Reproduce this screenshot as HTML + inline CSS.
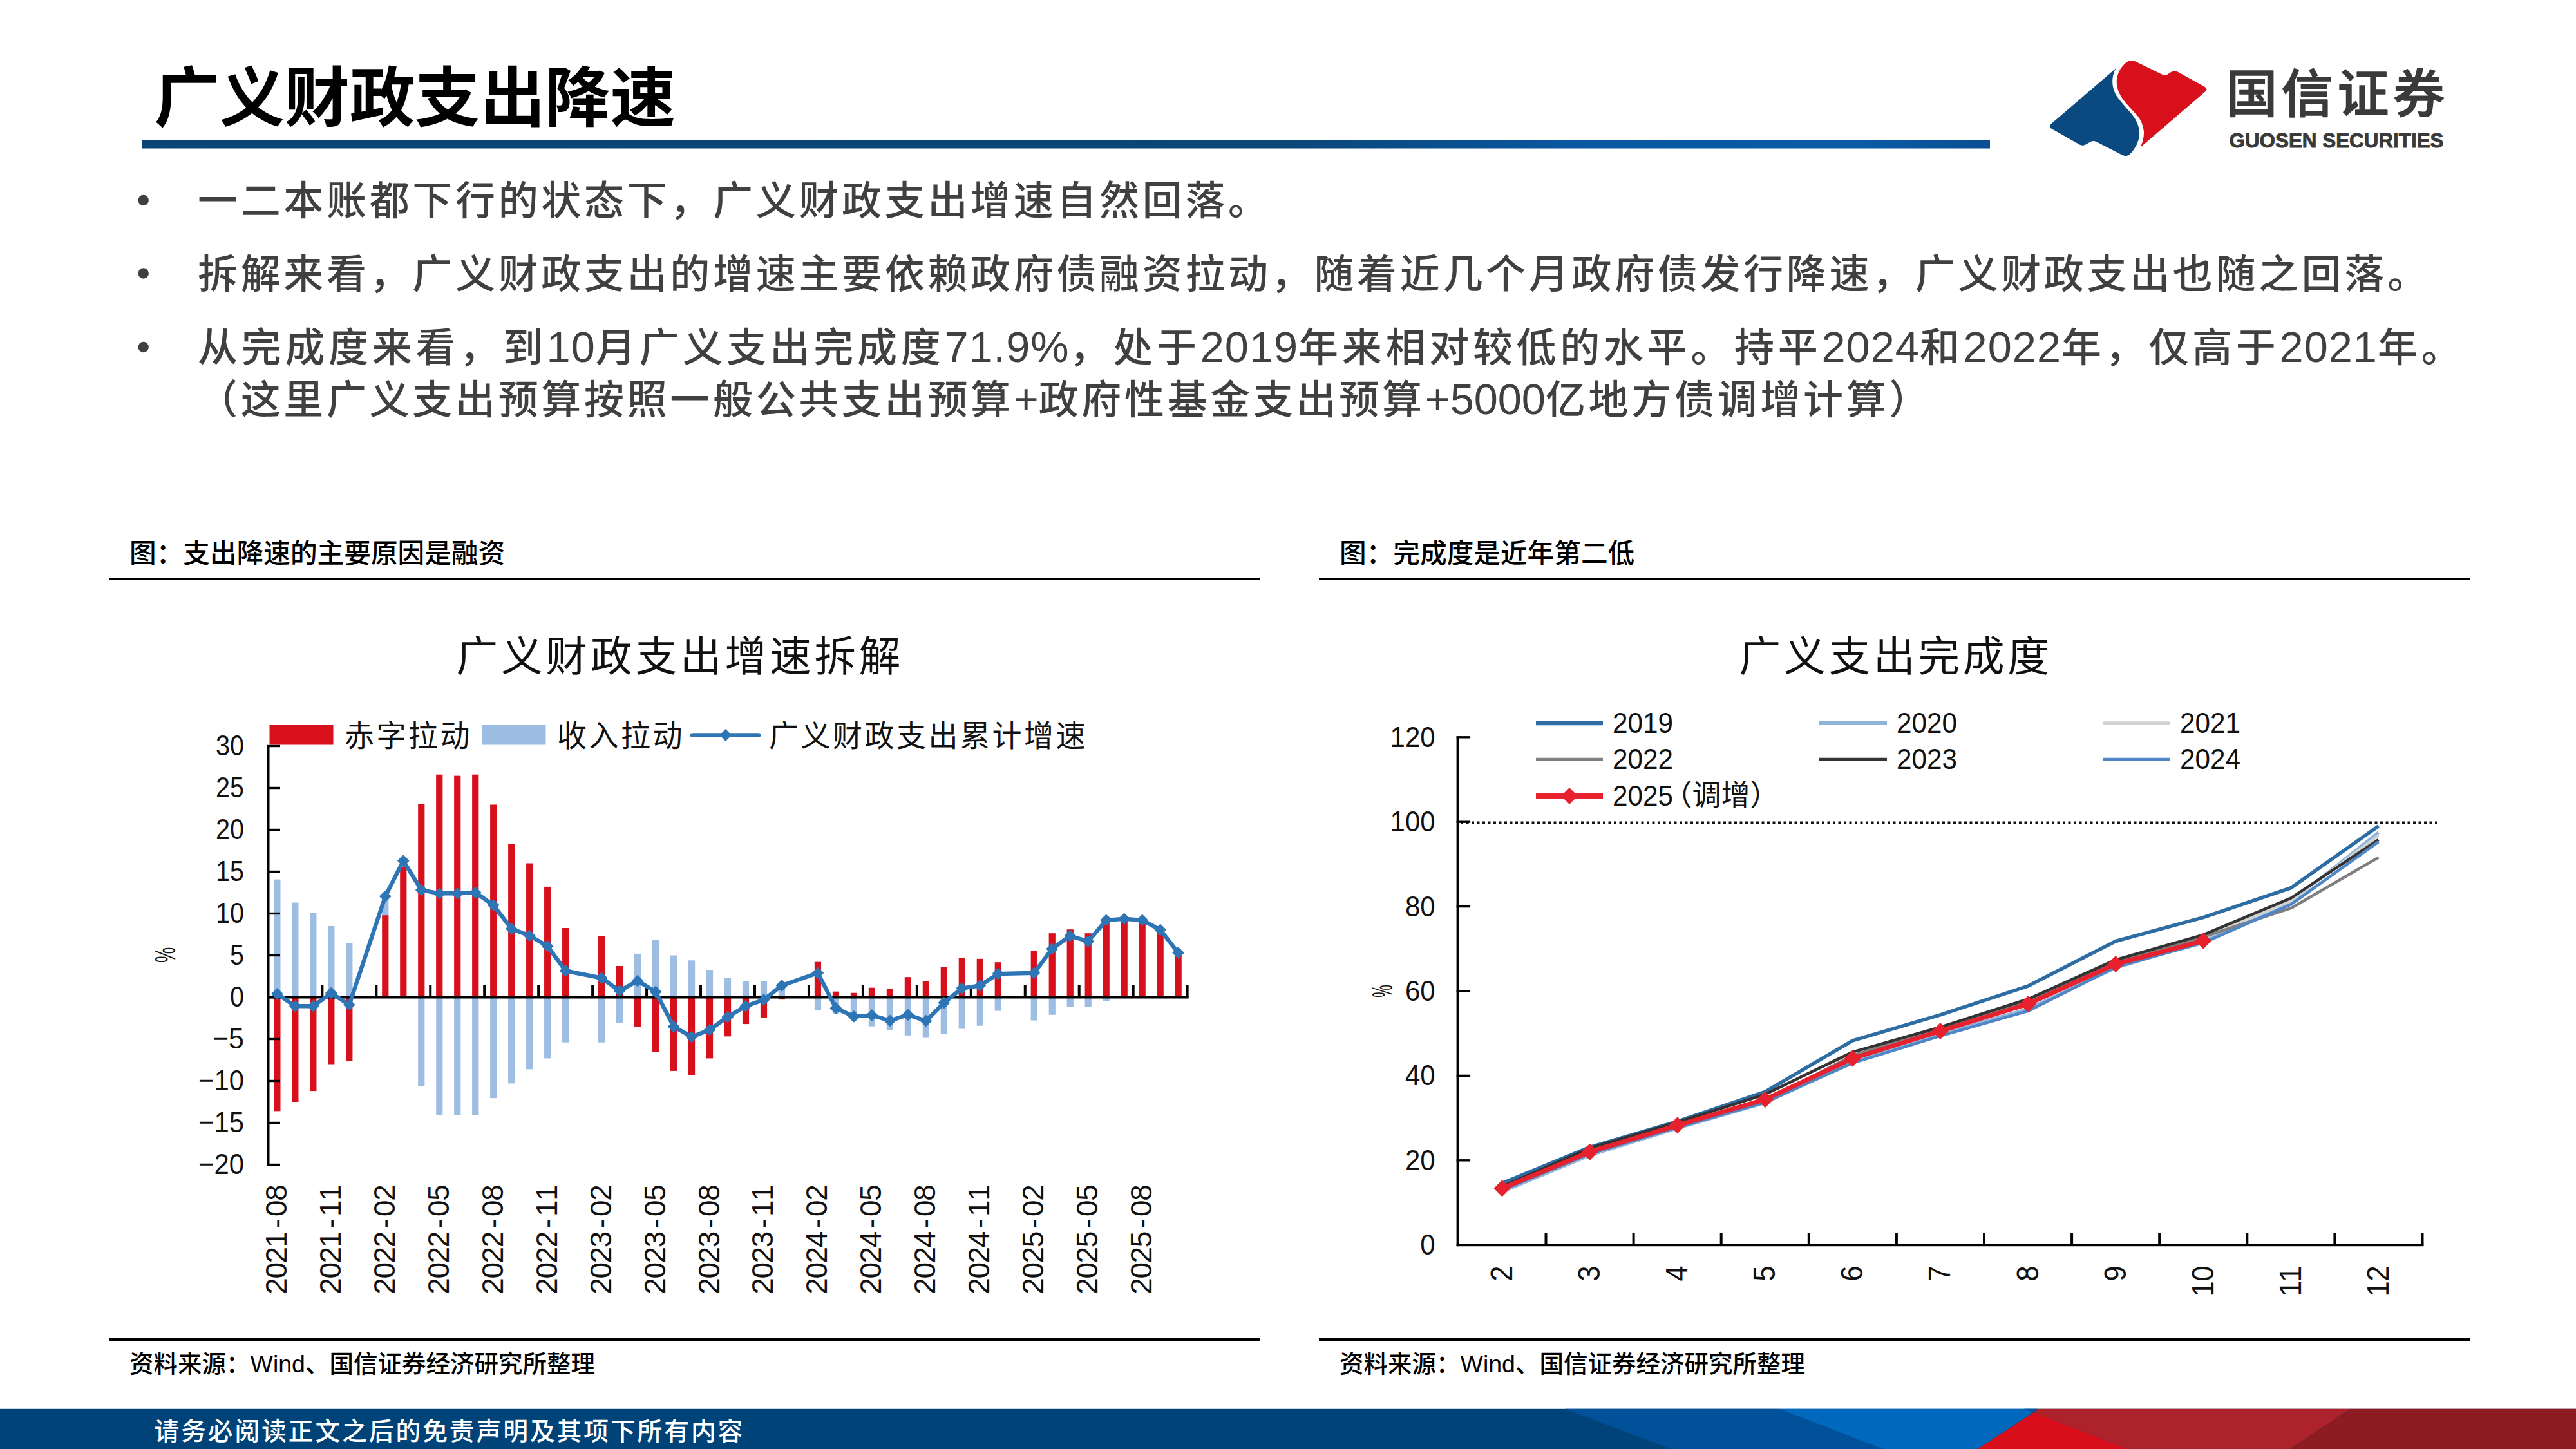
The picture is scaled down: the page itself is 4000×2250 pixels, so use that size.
<!DOCTYPE html>
<html lang="zh-CN"><head><meta charset="utf-8"><title>广义财政支出降速</title>
<style>html,body{margin:0;padding:0;background:#fff;}svg{display:block;}text{white-space:pre;}</style></head>
<body>
<svg width="4000" height="2250" viewBox="0 0 4000 2250">
<rect width="4000" height="2250" fill="#fff"/>
<text x="239.5" y="187.5" font-size="101.2" fill="#000" text-anchor="start" font-weight="700" font-family="'Liberation Sans','Noto Sans CJK SC',sans-serif" id="title">广义财政支出降速</text>
<defs><linearGradient id="rule" x1="0" x2="1" y1="0" y2="0"><stop offset="0" stop-color="#0b4576"/><stop offset="0.62" stop-color="#0b4678"/><stop offset="0.78" stop-color="#0a58a2"/><stop offset="0.93" stop-color="#0a5aa6"/><stop offset="1" stop-color="#0a4f92"/></linearGradient></defs>
<rect x="220" y="217.5" width="2870" height="13" fill="url(#rule)"/>
<g transform="translate(3160,80) scale(0.12422)"><path fill="#0a4a80" d="M1012 210 L200 905 Q165 940 205 965 L560 1165 Q600 1185 640 1160 L700 1125 Q730 1110 765 1128 L1090 1295 Q1150 1320 1190 1280 Q1300 1160 1305 1030 Q1310 900 1200 770 Q1060 620 1010 540 Q950 430 975 300 Q985 250 1012 210 Z"/><path fill="#d7101c" d="M1315 1200 L2130 500 Q2165 465 2120 440 L1775 250 Q1740 232 1700 258 L1650 290 Q1625 305 1590 288 L1255 125 Q1200 100 1150 130 Q1030 220 1020 370 Q1015 480 1100 600 Q1180 700 1270 790 Q1350 880 1360 1000 Q1365 1100 1315 1200 Z"/></g>
<text x="3456.2" y="174" font-size="80" fill="#3a3a3a" text-anchor="start" font-weight="500" font-family="'Liberation Sans','Noto Sans CJK SC',sans-serif" id="logocn" letter-spacing="6.6" stroke="#3a3a3a" stroke-width="1.6" stroke-linejoin="round">国信证券</text>
<text x="3461.5" y="229" font-size="31.3" fill="#3a3a3a" text-anchor="start" font-weight="700" font-family="'Liberation Sans',sans-serif" id="logoen" textLength="333" lengthAdjust="spacingAndGlyphs" stroke="#3a3a3a" stroke-width="0.9">GUOSEN SECURITIES</text>
<text x="307.0" y="334" fill="#404040" font-weight="500" font-family="'Liberation Sans','Noto Sans CJK SC',sans-serif" id="b0"><tspan font-size="62.00" letter-spacing="4.67">一二本账都下行的状态下，广义财政支出增速自然回落。</tspan></text>
<circle cx="222.7" cy="311" r="8.2" fill="#404040"/>
<text x="307.0" y="447.5" fill="#404040" font-weight="500" font-family="'Liberation Sans','Noto Sans CJK SC',sans-serif" id="b1"><tspan font-size="62.00" letter-spacing="4.67">拆解来看，广义财政支出的增速主要依赖政府债融资拉动，随着近几个月政府债发行降速，广义财政支出也随之回落。</tspan></text>
<circle cx="222.7" cy="424.5" r="8.2" fill="#404040"/>
<text x="307.0" y="562" fill="#404040" font-weight="500" font-family="'Liberation Sans','Noto Sans CJK SC',sans-serif" id="b2"><tspan font-size="62.00" letter-spacing="5.70">从完成度来看，到</tspan><tspan font-size="66.67" letter-spacing="1.03">10</tspan><tspan font-size="62.00" letter-spacing="5.70">月广义支出完成度</tspan><tspan font-size="66.67" letter-spacing="1.03">71.9%</tspan><tspan font-size="62.00" letter-spacing="5.70">，处于</tspan><tspan font-size="66.67" letter-spacing="1.03">2019</tspan><tspan font-size="62.00" letter-spacing="5.70">年来相对较低的水平。持平</tspan><tspan font-size="66.67" letter-spacing="1.03">2024</tspan><tspan font-size="62.00" letter-spacing="5.70">和</tspan><tspan font-size="66.67" letter-spacing="1.03">2022</tspan><tspan font-size="62.00" letter-spacing="5.70">年，仅高于</tspan><tspan font-size="66.67" letter-spacing="1.03">2021</tspan><tspan font-size="62.00" letter-spacing="5.70">年。</tspan></text>
<circle cx="222.7" cy="539" r="8.2" fill="#404040"/>
<text x="307.0" y="642.5" fill="#404040" font-weight="500" font-family="'Liberation Sans','Noto Sans CJK SC',sans-serif" id="b3"><tspan font-size="62.00" letter-spacing="4.67">（这里广义支出预算按照一般公共支出预算</tspan><tspan font-size="66.67" letter-spacing="0.00">+</tspan><tspan font-size="62.00" letter-spacing="4.67">政府性基金支出预算</tspan><tspan font-size="66.67" letter-spacing="0.00">+5000</tspan><tspan font-size="62.00" letter-spacing="4.67">亿地方债调增计算）</tspan></text>
<text x="201" y="874" font-size="41.67" fill="#000" text-anchor="start" font-weight="500" font-family="'Liberation Sans','Noto Sans CJK SC',sans-serif" id="f1">图：支出降速的主要原因是融资</text>
<rect x="169" y="897" width="1788" height="4" fill="#000"/>
<rect x="169" y="2078" width="1788" height="4" fill="#000"/>
<text x="201" y="2131" font-size="37.5" fill="#000" text-anchor="start" font-weight="500" font-family="'Liberation Sans','Noto Sans CJK SC',sans-serif" id="sf1">资料来源：Wind、国信证券经济研究所整理</text>
<text x="2080" y="874" font-size="41.67" fill="#000" text-anchor="start" font-weight="500" font-family="'Liberation Sans','Noto Sans CJK SC',sans-serif" id="f2">图：完成度是近年第二低</text>
<rect x="2048" y="897" width="1788" height="4" fill="#000"/>
<rect x="2048" y="2078" width="1788" height="4" fill="#000"/>
<text x="2080" y="2131" font-size="37.5" fill="#000" text-anchor="start" font-weight="500" font-family="'Liberation Sans','Noto Sans CJK SC',sans-serif" id="sf2">资料来源：Wind、国信证券经济研究所整理</text>
<text x="708.5" y="1041.5" fill="#111" font-weight="400" font-family="'Liberation Sans','Noto Sans CJK SC',sans-serif" id="ct1"><tspan font-size="64.64" letter-spacing="4.86">广义财政支出增速拆解</tspan></text>
<rect x="418.5" y="1126" width="99" height="30.5" fill="#d7101c"/>
<text x="535" y="1158.5" fill="#111" font-weight="400" font-family="'Liberation Sans','Noto Sans CJK SC',sans-serif" id="lg1"><tspan font-size="46.04" letter-spacing="3.46">赤字拉动</tspan></text>
<rect x="748.5" y="1126" width="99" height="30.5" fill="#9dbde3"/>
<text x="865" y="1158.5" fill="#111" font-weight="400" font-family="'Liberation Sans','Noto Sans CJK SC',sans-serif" id="lg2"><tspan font-size="46.04" letter-spacing="3.46">收入拉动</tspan></text>
<line x1="1075" y1="1141.5" x2="1178" y2="1141.5" stroke="#2e75b6" stroke-width="6.4" stroke-linecap="round"/>
<polygon points="1117.3,1141.5 1126.7,1132.1 1136.1,1141.5 1126.7,1150.9" fill="#2e75b6"/>
<text x="1194" y="1158.5" fill="#111" font-weight="400" font-family="'Liberation Sans','Noto Sans CJK SC',sans-serif" id="lg3"><tspan font-size="46.04" letter-spacing="3.46">广义财政支出累计增速</tspan></text>
<rect x="425.29" y="1548.50" width="10.2" height="176.80" fill="#d7101c"/>
<rect x="425.29" y="1365.59" width="10.2" height="182.91" fill="#9dbde3"/>
<rect x="453.28" y="1548.50" width="10.2" height="162.50" fill="#d7101c"/>
<rect x="453.28" y="1401.60" width="10.2" height="146.90" fill="#9dbde3"/>
<rect x="481.26" y="1548.50" width="10.2" height="145.60" fill="#d7101c"/>
<rect x="481.26" y="1417.20" width="10.2" height="131.30" fill="#9dbde3"/>
<rect x="509.25" y="1548.50" width="10.2" height="104.00" fill="#d7101c"/>
<rect x="509.25" y="1438.00" width="10.2" height="110.50" fill="#9dbde3"/>
<rect x="537.23" y="1548.50" width="10.2" height="98.80" fill="#d7101c"/>
<rect x="537.23" y="1464.65" width="10.2" height="83.85" fill="#9dbde3"/>
<rect x="593.20" y="1421.10" width="10.2" height="127.40" fill="#d7101c"/>
<rect x="593.20" y="1392.50" width="10.2" height="28.60" fill="#9dbde3"/>
<rect x="621.19" y="1345.70" width="10.2" height="202.80" fill="#d7101c"/>
<rect x="621.19" y="1336.60" width="10.2" height="9.10" fill="#9dbde3"/>
<rect x="649.17" y="1248.20" width="10.2" height="300.30" fill="#d7101c"/>
<rect x="649.17" y="1548.50" width="10.2" height="137.80" fill="#9dbde3"/>
<rect x="677.16" y="1202.70" width="10.2" height="345.80" fill="#d7101c"/>
<rect x="677.16" y="1548.50" width="10.2" height="183.30" fill="#9dbde3"/>
<rect x="705.14" y="1204.65" width="10.2" height="343.85" fill="#d7101c"/>
<rect x="705.14" y="1548.50" width="10.2" height="183.30" fill="#9dbde3"/>
<rect x="733.13" y="1202.70" width="10.2" height="345.80" fill="#d7101c"/>
<rect x="733.13" y="1548.50" width="10.2" height="183.30" fill="#9dbde3"/>
<rect x="761.11" y="1249.50" width="10.2" height="299.00" fill="#d7101c"/>
<rect x="761.11" y="1548.50" width="10.2" height="156.65" fill="#9dbde3"/>
<rect x="789.10" y="1310.60" width="10.2" height="237.90" fill="#d7101c"/>
<rect x="789.10" y="1548.50" width="10.2" height="133.90" fill="#9dbde3"/>
<rect x="817.08" y="1340.50" width="10.2" height="208.00" fill="#d7101c"/>
<rect x="817.08" y="1548.50" width="10.2" height="111.80" fill="#9dbde3"/>
<rect x="845.07" y="1376.90" width="10.2" height="171.60" fill="#d7101c"/>
<rect x="845.07" y="1548.50" width="10.2" height="94.90" fill="#9dbde3"/>
<rect x="873.05" y="1440.99" width="10.2" height="107.51" fill="#d7101c"/>
<rect x="873.05" y="1548.50" width="10.2" height="70.20" fill="#9dbde3"/>
<rect x="929.02" y="1453.21" width="10.2" height="95.29" fill="#d7101c"/>
<rect x="929.02" y="1548.50" width="10.2" height="70.20" fill="#9dbde3"/>
<rect x="957.01" y="1500.01" width="10.2" height="48.49" fill="#d7101c"/>
<rect x="957.01" y="1548.50" width="10.2" height="40.04" fill="#9dbde3"/>
<rect x="984.99" y="1548.50" width="10.2" height="45.50" fill="#d7101c"/>
<rect x="984.99" y="1480.90" width="10.2" height="67.60" fill="#9dbde3"/>
<rect x="1012.98" y="1548.50" width="10.2" height="85.41" fill="#d7101c"/>
<rect x="1012.98" y="1460.10" width="10.2" height="88.40" fill="#9dbde3"/>
<rect x="1040.96" y="1548.50" width="10.2" height="114.40" fill="#d7101c"/>
<rect x="1040.96" y="1483.50" width="10.2" height="65.00" fill="#9dbde3"/>
<rect x="1068.95" y="1548.50" width="10.2" height="120.90" fill="#d7101c"/>
<rect x="1068.95" y="1491.30" width="10.2" height="57.20" fill="#9dbde3"/>
<rect x="1096.93" y="1548.50" width="10.2" height="94.90" fill="#d7101c"/>
<rect x="1096.93" y="1505.99" width="10.2" height="42.51" fill="#9dbde3"/>
<rect x="1124.92" y="1548.50" width="10.2" height="60.84" fill="#d7101c"/>
<rect x="1124.92" y="1518.99" width="10.2" height="29.51" fill="#9dbde3"/>
<rect x="1152.90" y="1548.50" width="10.2" height="41.60" fill="#d7101c"/>
<rect x="1152.90" y="1523.02" width="10.2" height="25.48" fill="#9dbde3"/>
<rect x="1180.89" y="1548.50" width="10.2" height="31.46" fill="#d7101c"/>
<rect x="1180.89" y="1523.02" width="10.2" height="25.48" fill="#9dbde3"/>
<rect x="1208.87" y="1548.50" width="10.2" height="3.64" fill="#d7101c"/>
<rect x="1208.87" y="1526.40" width="10.2" height="22.10" fill="#9dbde3"/>
<rect x="1264.84" y="1493.64" width="10.2" height="54.86" fill="#d7101c"/>
<rect x="1264.84" y="1548.50" width="10.2" height="20.28" fill="#9dbde3"/>
<rect x="1292.83" y="1539.66" width="10.2" height="8.84" fill="#d7101c"/>
<rect x="1292.83" y="1548.50" width="10.2" height="26.00" fill="#9dbde3"/>
<rect x="1320.81" y="1541.74" width="10.2" height="6.76" fill="#d7101c"/>
<rect x="1320.81" y="1548.50" width="10.2" height="37.05" fill="#9dbde3"/>
<rect x="1348.80" y="1533.68" width="10.2" height="14.82" fill="#d7101c"/>
<rect x="1348.80" y="1548.50" width="10.2" height="45.11" fill="#9dbde3"/>
<rect x="1376.78" y="1535.76" width="10.2" height="12.74" fill="#d7101c"/>
<rect x="1376.78" y="1548.50" width="10.2" height="50.44" fill="#9dbde3"/>
<rect x="1404.77" y="1517.17" width="10.2" height="31.33" fill="#d7101c"/>
<rect x="1404.77" y="1548.50" width="10.2" height="59.28" fill="#9dbde3"/>
<rect x="1432.75" y="1523.02" width="10.2" height="25.48" fill="#d7101c"/>
<rect x="1432.75" y="1548.50" width="10.2" height="63.05" fill="#9dbde3"/>
<rect x="1460.74" y="1501.96" width="10.2" height="46.54" fill="#d7101c"/>
<rect x="1460.74" y="1548.50" width="10.2" height="57.46" fill="#9dbde3"/>
<rect x="1488.72" y="1487.40" width="10.2" height="61.10" fill="#d7101c"/>
<rect x="1488.72" y="1548.50" width="10.2" height="49.01" fill="#9dbde3"/>
<rect x="1516.71" y="1488.83" width="10.2" height="59.67" fill="#d7101c"/>
<rect x="1516.71" y="1548.50" width="10.2" height="44.20" fill="#9dbde3"/>
<rect x="1544.69" y="1494.16" width="10.2" height="54.34" fill="#d7101c"/>
<rect x="1544.69" y="1548.50" width="10.2" height="21.06" fill="#9dbde3"/>
<rect x="1600.66" y="1477.00" width="10.2" height="71.50" fill="#d7101c"/>
<rect x="1600.66" y="1548.50" width="10.2" height="36.01" fill="#9dbde3"/>
<rect x="1628.65" y="1449.18" width="10.2" height="99.32" fill="#d7101c"/>
<rect x="1628.65" y="1548.50" width="10.2" height="27.30" fill="#9dbde3"/>
<rect x="1656.63" y="1443.20" width="10.2" height="105.30" fill="#d7101c"/>
<rect x="1656.63" y="1548.50" width="10.2" height="14.95" fill="#9dbde3"/>
<rect x="1684.62" y="1449.18" width="10.2" height="99.32" fill="#d7101c"/>
<rect x="1684.62" y="1548.50" width="10.2" height="14.95" fill="#9dbde3"/>
<rect x="1712.60" y="1423.70" width="10.2" height="124.80" fill="#d7101c"/>
<rect x="1712.60" y="1548.50" width="10.2" height="5.59" fill="#9dbde3"/>
<rect x="1740.59" y="1426.30" width="10.2" height="122.20" fill="#d7101c"/>
<rect x="1768.57" y="1428.90" width="10.2" height="119.60" fill="#d7101c"/>
<rect x="1796.56" y="1443.85" width="10.2" height="104.65" fill="#d7101c"/>
<rect x="1824.54" y="1479.60" width="10.2" height="68.90" fill="#d7101c"/>
<rect x="414.5" y="1157" width="4" height="653.5" fill="#000"/>
<rect x="414.5" y="1156.80" width="20.5" height="3.4" fill="#000"/>
<text x="379" y="1172.5" font-size="45" fill="#111" text-anchor="end" font-family="'Liberation Sans',sans-serif" textLength="44" lengthAdjust="spacingAndGlyphs" >30</text>
<rect x="414.5" y="1221.80" width="20.5" height="3.4" fill="#000"/>
<text x="379" y="1237.5" font-size="45" fill="#111" text-anchor="end" font-family="'Liberation Sans',sans-serif" textLength="44" lengthAdjust="spacingAndGlyphs" >25</text>
<rect x="414.5" y="1286.80" width="20.5" height="3.4" fill="#000"/>
<text x="379" y="1302.5" font-size="45" fill="#111" text-anchor="end" font-family="'Liberation Sans',sans-serif" textLength="44" lengthAdjust="spacingAndGlyphs" >20</text>
<rect x="414.5" y="1351.80" width="20.5" height="3.4" fill="#000"/>
<text x="379" y="1367.5" font-size="45" fill="#111" text-anchor="end" font-family="'Liberation Sans',sans-serif" textLength="44" lengthAdjust="spacingAndGlyphs" >15</text>
<rect x="414.5" y="1416.80" width="20.5" height="3.4" fill="#000"/>
<text x="379" y="1432.5" font-size="45" fill="#111" text-anchor="end" font-family="'Liberation Sans',sans-serif" textLength="44" lengthAdjust="spacingAndGlyphs" >10</text>
<rect x="414.5" y="1481.80" width="20.5" height="3.4" fill="#000"/>
<text x="379" y="1497.5" font-size="45" fill="#111" text-anchor="end" font-family="'Liberation Sans',sans-serif" textLength="22" lengthAdjust="spacingAndGlyphs" >5</text>
<rect x="414.5" y="1546.80" width="20.5" height="3.4" fill="#000"/>
<text x="379" y="1562.5" font-size="45" fill="#111" text-anchor="end" font-family="'Liberation Sans',sans-serif" textLength="22" lengthAdjust="spacingAndGlyphs" >0</text>
<rect x="414.5" y="1611.80" width="20.5" height="3.4" fill="#000"/>
<text x="379" y="1627.5" font-size="45" fill="#111" text-anchor="end" font-family="'Liberation Sans',sans-serif" textLength="49" lengthAdjust="spacingAndGlyphs" >−5</text>
<rect x="414.5" y="1676.80" width="20.5" height="3.4" fill="#000"/>
<text x="379" y="1692.5" font-size="45" fill="#111" text-anchor="end" font-family="'Liberation Sans',sans-serif" textLength="71" lengthAdjust="spacingAndGlyphs" >−10</text>
<rect x="414.5" y="1741.80" width="20.5" height="3.4" fill="#000"/>
<text x="379" y="1757.5" font-size="45" fill="#111" text-anchor="end" font-family="'Liberation Sans',sans-serif" textLength="71" lengthAdjust="spacingAndGlyphs" >−15</text>
<rect x="414.5" y="1806.80" width="20.5" height="3.4" fill="#000"/>
<text x="379" y="1822.5" font-size="45" fill="#111" text-anchor="end" font-family="'Liberation Sans',sans-serif" textLength="71" lengthAdjust="spacingAndGlyphs" >−20</text>
<rect x="414.5" y="1546.5" width="1431.13" height="4" fill="#000"/>
<rect x="498.35" y="1529.5" width="4" height="19" fill="#000"/>
<rect x="582.31" y="1529.5" width="4" height="19" fill="#000"/>
<rect x="666.26" y="1529.5" width="4" height="19" fill="#000"/>
<rect x="750.22" y="1529.5" width="4" height="19" fill="#000"/>
<rect x="834.17" y="1529.5" width="4" height="19" fill="#000"/>
<rect x="918.13" y="1529.5" width="4" height="19" fill="#000"/>
<rect x="1002.08" y="1529.5" width="4" height="19" fill="#000"/>
<rect x="1086.04" y="1529.5" width="4" height="19" fill="#000"/>
<rect x="1169.99" y="1529.5" width="4" height="19" fill="#000"/>
<rect x="1253.95" y="1529.5" width="4" height="19" fill="#000"/>
<rect x="1337.90" y="1529.5" width="4" height="19" fill="#000"/>
<rect x="1421.86" y="1529.5" width="4" height="19" fill="#000"/>
<rect x="1505.82" y="1529.5" width="4" height="19" fill="#000"/>
<rect x="1589.77" y="1529.5" width="4" height="19" fill="#000"/>
<rect x="1673.72" y="1529.5" width="4" height="19" fill="#000"/>
<rect x="1757.68" y="1529.5" width="4" height="19" fill="#000"/>
<rect x="1841.63" y="1529.5" width="4" height="19" fill="#000"/>
<text transform="translate(444.89 2009.05) rotate(-90)" x="-0.71 23.44 47.59 71.74 101.02 120.04 144.19" y="0" font-size="46" fill="#111" font-family="'Liberation Sans',sans-serif">2021-08</text>
<text transform="translate(528.85 2009.05) rotate(-90)" x="-0.71 23.44 47.59 71.74 101.02 120.04 144.19" y="0" font-size="46" fill="#111" font-family="'Liberation Sans',sans-serif">2021-11</text>
<text transform="translate(612.8 2009.05) rotate(-90)" x="-0.71 23.44 47.59 71.74 101.02 120.04 144.19" y="0" font-size="46" fill="#111" font-family="'Liberation Sans',sans-serif">2022-02</text>
<text transform="translate(696.76 2009.05) rotate(-90)" x="-0.71 23.44 47.59 71.74 101.02 120.04 144.19" y="0" font-size="46" fill="#111" font-family="'Liberation Sans',sans-serif">2022-05</text>
<text transform="translate(780.71 2009.05) rotate(-90)" x="-0.71 23.44 47.59 71.74 101.02 120.04 144.19" y="0" font-size="46" fill="#111" font-family="'Liberation Sans',sans-serif">2022-08</text>
<text transform="translate(864.67 2009.05) rotate(-90)" x="-0.71 23.44 47.59 71.74 101.02 120.04 144.19" y="0" font-size="46" fill="#111" font-family="'Liberation Sans',sans-serif">2022-11</text>
<text transform="translate(948.62 2009.05) rotate(-90)" x="-0.71 23.44 47.59 71.74 101.02 120.04 144.19" y="0" font-size="46" fill="#111" font-family="'Liberation Sans',sans-serif">2023-02</text>
<text transform="translate(1032.58 2009.05) rotate(-90)" x="-0.71 23.44 47.59 71.74 101.02 120.04 144.19" y="0" font-size="46" fill="#111" font-family="'Liberation Sans',sans-serif">2023-05</text>
<text transform="translate(1116.53 2009.05) rotate(-90)" x="-0.71 23.44 47.59 71.74 101.02 120.04 144.19" y="0" font-size="46" fill="#111" font-family="'Liberation Sans',sans-serif">2023-08</text>
<text transform="translate(1200.49 2009.05) rotate(-90)" x="-0.71 23.44 47.59 71.74 101.02 120.04 144.19" y="0" font-size="46" fill="#111" font-family="'Liberation Sans',sans-serif">2023-11</text>
<text transform="translate(1284.44 2009.05) rotate(-90)" x="-0.71 23.44 47.59 71.74 101.02 120.04 144.19" y="0" font-size="46" fill="#111" font-family="'Liberation Sans',sans-serif">2024-02</text>
<text transform="translate(1368.4 2009.05) rotate(-90)" x="-0.71 23.44 47.59 71.74 101.02 120.04 144.19" y="0" font-size="46" fill="#111" font-family="'Liberation Sans',sans-serif">2024-05</text>
<text transform="translate(1452.35 2009.05) rotate(-90)" x="-0.71 23.44 47.59 71.74 101.02 120.04 144.19" y="0" font-size="46" fill="#111" font-family="'Liberation Sans',sans-serif">2024-08</text>
<text transform="translate(1536.31 2009.05) rotate(-90)" x="-0.71 23.44 47.59 71.74 101.02 120.04 144.19" y="0" font-size="46" fill="#111" font-family="'Liberation Sans',sans-serif">2024-11</text>
<text transform="translate(1620.26 2009.05) rotate(-90)" x="-0.71 23.44 47.59 71.74 101.02 120.04 144.19" y="0" font-size="46" fill="#111" font-family="'Liberation Sans',sans-serif">2025-02</text>
<text transform="translate(1704.22 2009.05) rotate(-90)" x="-0.71 23.44 47.59 71.74 101.02 120.04 144.19" y="0" font-size="46" fill="#111" font-family="'Liberation Sans',sans-serif">2025-05</text>
<text transform="translate(1788.17 2009.05) rotate(-90)" x="-0.71 23.44 47.59 71.74 101.02 120.04 144.19" y="0" font-size="46" fill="#111" font-family="'Liberation Sans',sans-serif">2025-08</text>
<text font-size="44" fill="#111" font-family="'Liberation Sans',sans-serif" text-anchor="middle" transform="translate(272,1483) rotate(-90) scale(0.62,1)">%</text>
<polyline fill="none" stroke="#2e75b6" stroke-width="6.4" stroke-linejoin="round" stroke-linecap="round" points="430.4,1543.3 458.4,1562.3 486.4,1562.3 514.3,1542.0 542.3,1560.2 598.3,1391.8 626.3,1336.6 654.3,1382.1 682.3,1387.3 710.2,1387.3 738.2,1386.0 766.2,1405.5 794.2,1442.3 822.2,1452.8 850.2,1469.2 878.2,1507.5 934.1,1518.6 962.1,1538.6 990.1,1523.0 1018.1,1540.0 1046.1,1594.0 1074.0,1610.0 1102.0,1599.2 1130.0,1578.9 1158.0,1562.2 1186.0,1552.4 1214.0,1530.3 1269.9,1510.8 1297.9,1565.4 1325.9,1578.4 1353.9,1576.5 1381.9,1584.9 1409.9,1575.8 1437.9,1585.2 1465.8,1557.2 1493.8,1534.6 1521.8,1530.3 1549.8,1512.1 1605.8,1510.8 1633.7,1473.4 1661.7,1453.2 1689.7,1461.8 1717.7,1428.9 1745.7,1426.8 1773.7,1428.9 1801.7,1443.8 1829.6,1479.6"/>
<polygon points="421.0,1543.3 430.4,1533.9 439.8,1543.3 430.4,1552.7" fill="#2e75b6"/>
<polygon points="449.0,1562.3 458.4,1552.9 467.8,1562.3 458.4,1571.7" fill="#2e75b6"/>
<polygon points="477.0,1562.3 486.4,1552.9 495.8,1562.3 486.4,1571.7" fill="#2e75b6"/>
<polygon points="504.9,1542.0 514.3,1532.6 523.7,1542.0 514.3,1551.4" fill="#2e75b6"/>
<polygon points="532.9,1560.2 542.3,1550.8 551.7,1560.2 542.3,1569.6" fill="#2e75b6"/>
<polygon points="588.9,1391.8 598.3,1382.4 607.7,1391.8 598.3,1401.2" fill="#2e75b6"/>
<polygon points="616.9,1336.6 626.3,1327.2 635.7,1336.6 626.3,1346.0" fill="#2e75b6"/>
<polygon points="644.9,1382.1 654.3,1372.7 663.7,1382.1 654.3,1391.5" fill="#2e75b6"/>
<polygon points="672.9,1387.3 682.3,1377.9 691.7,1387.3 682.3,1396.7" fill="#2e75b6"/>
<polygon points="700.8,1387.3 710.2,1377.9 719.6,1387.3 710.2,1396.7" fill="#2e75b6"/>
<polygon points="728.8,1386.0 738.2,1376.6 747.6,1386.0 738.2,1395.4" fill="#2e75b6"/>
<polygon points="756.8,1405.5 766.2,1396.1 775.6,1405.5 766.2,1414.9" fill="#2e75b6"/>
<polygon points="784.8,1442.3 794.2,1432.9 803.6,1442.3 794.2,1451.7" fill="#2e75b6"/>
<polygon points="812.8,1452.8 822.2,1443.4 831.6,1452.8 822.2,1462.2" fill="#2e75b6"/>
<polygon points="840.8,1469.2 850.2,1459.8 859.6,1469.2 850.2,1478.6" fill="#2e75b6"/>
<polygon points="868.8,1507.5 878.2,1498.1 887.6,1507.5 878.2,1517.0" fill="#2e75b6"/>
<polygon points="924.7,1518.6 934.1,1509.2 943.5,1518.6 934.1,1528.0" fill="#2e75b6"/>
<polygon points="952.7,1538.6 962.1,1529.2 971.5,1538.6 962.1,1548.0" fill="#2e75b6"/>
<polygon points="980.7,1523.0 990.1,1513.6 999.5,1523.0 990.1,1532.4" fill="#2e75b6"/>
<polygon points="1008.7,1540.0 1018.1,1530.6 1027.5,1540.0 1018.1,1549.5" fill="#2e75b6"/>
<polygon points="1036.7,1594.0 1046.1,1584.6 1055.5,1594.0 1046.1,1603.4" fill="#2e75b6"/>
<polygon points="1064.6,1610.0 1074.0,1600.6 1083.4,1610.0 1074.0,1619.4" fill="#2e75b6"/>
<polygon points="1092.6,1599.2 1102.0,1589.8 1111.4,1599.2 1102.0,1608.6" fill="#2e75b6"/>
<polygon points="1120.6,1578.9 1130.0,1569.5 1139.4,1578.9 1130.0,1588.3" fill="#2e75b6"/>
<polygon points="1148.6,1562.2 1158.0,1552.8 1167.4,1562.2 1158.0,1571.6" fill="#2e75b6"/>
<polygon points="1176.6,1552.4 1186.0,1543.0 1195.4,1552.4 1186.0,1561.8" fill="#2e75b6"/>
<polygon points="1204.6,1530.3 1214.0,1520.9 1223.4,1530.3 1214.0,1539.7" fill="#2e75b6"/>
<polygon points="1260.5,1510.8 1269.9,1501.4 1279.3,1510.8 1269.9,1520.2" fill="#2e75b6"/>
<polygon points="1288.5,1565.4 1297.9,1556.0 1307.3,1565.4 1297.9,1574.8" fill="#2e75b6"/>
<polygon points="1316.5,1578.4 1325.9,1569.0 1335.3,1578.4 1325.9,1587.8" fill="#2e75b6"/>
<polygon points="1344.5,1576.5 1353.9,1567.0 1363.3,1576.5 1353.9,1585.9" fill="#2e75b6"/>
<polygon points="1372.5,1584.9 1381.9,1575.5 1391.3,1584.9 1381.9,1594.3" fill="#2e75b6"/>
<polygon points="1400.5,1575.8 1409.9,1566.4 1419.3,1575.8 1409.9,1585.2" fill="#2e75b6"/>
<polygon points="1428.5,1585.2 1437.9,1575.8 1447.3,1585.2 1437.9,1594.6" fill="#2e75b6"/>
<polygon points="1456.4,1557.2 1465.8,1547.8 1475.2,1557.2 1465.8,1566.6" fill="#2e75b6"/>
<polygon points="1484.4,1534.6 1493.8,1525.2 1503.2,1534.6 1493.8,1544.0" fill="#2e75b6"/>
<polygon points="1512.4,1530.3 1521.8,1520.9 1531.2,1530.3 1521.8,1539.7" fill="#2e75b6"/>
<polygon points="1540.4,1512.1 1549.8,1502.7 1559.2,1512.1 1549.8,1521.5" fill="#2e75b6"/>
<polygon points="1596.4,1510.8 1605.8,1501.4 1615.2,1510.8 1605.8,1520.2" fill="#2e75b6"/>
<polygon points="1624.3,1473.4 1633.7,1464.0 1643.1,1473.4 1633.7,1482.8" fill="#2e75b6"/>
<polygon points="1652.3,1453.2 1661.7,1443.8 1671.1,1453.2 1661.7,1462.6" fill="#2e75b6"/>
<polygon points="1680.3,1461.8 1689.7,1452.4 1699.1,1461.8 1689.7,1471.2" fill="#2e75b6"/>
<polygon points="1708.3,1428.9 1717.7,1419.5 1727.1,1428.9 1717.7,1438.3" fill="#2e75b6"/>
<polygon points="1736.3,1426.8 1745.7,1417.4 1755.1,1426.8 1745.7,1436.2" fill="#2e75b6"/>
<polygon points="1764.3,1428.9 1773.7,1419.5 1783.1,1428.9 1773.7,1438.3" fill="#2e75b6"/>
<polygon points="1792.3,1443.8 1801.7,1434.4 1811.1,1443.8 1801.7,1453.2" fill="#2e75b6"/>
<polygon points="1820.2,1479.6 1829.6,1470.2 1839.0,1479.6 1829.6,1489.0" fill="#2e75b6"/>
<text x="2700.5" y="1041.5" fill="#111" font-weight="400" font-family="'Liberation Sans','Noto Sans CJK SC',sans-serif" id="ct2"><tspan font-size="64.64" letter-spacing="4.86">广义支出完成度</tspan></text>
<line x1="2268" y1="1277.5" x2="3784" y2="1277.5" stroke="#111" stroke-width="4" stroke-dasharray="4 4.5"/>
<line x1="2385" y1="1123" x2="2489" y2="1123" stroke="#2e6da4" stroke-width="6.3" stroke-linecap="butt"/>
<text x="2504" y="1138" font-size="44" fill="#111" font-family="'Liberation Sans',sans-serif" textLength="94" lengthAdjust="spacingAndGlyphs">2019</text>
<line x1="2825" y1="1123" x2="2930" y2="1123" stroke="#8fb4dc" stroke-width="5.8" stroke-linecap="butt"/>
<text x="2945" y="1138" font-size="44" fill="#111" font-family="'Liberation Sans',sans-serif" textLength="94" lengthAdjust="spacingAndGlyphs">2020</text>
<line x1="3266" y1="1123" x2="3370" y2="1123" stroke="#d2d2d2" stroke-width="5.3" stroke-linecap="butt"/>
<text x="3385" y="1138" font-size="44" fill="#111" font-family="'Liberation Sans',sans-serif" textLength="94" lengthAdjust="spacingAndGlyphs">2021</text>
<line x1="2385" y1="1179.3" x2="2489" y2="1179.3" stroke="#7f7f7f" stroke-width="5.3" stroke-linecap="butt"/>
<text x="2504" y="1194.3" font-size="44" fill="#111" font-family="'Liberation Sans',sans-serif" textLength="94" lengthAdjust="spacingAndGlyphs">2022</text>
<line x1="2825" y1="1179.3" x2="2930" y2="1179.3" stroke="#333333" stroke-width="5.3" stroke-linecap="butt"/>
<text x="2945" y="1194.3" font-size="44" fill="#111" font-family="'Liberation Sans',sans-serif" textLength="94" lengthAdjust="spacingAndGlyphs">2023</text>
<line x1="3266" y1="1179.3" x2="3370" y2="1179.3" stroke="#4f86c6" stroke-width="5.3" stroke-linecap="butt"/>
<text x="3385" y="1194.3" font-size="44" fill="#111" font-family="'Liberation Sans',sans-serif" textLength="94" lengthAdjust="spacingAndGlyphs">2024</text>
<line x1="2385" y1="1236" x2="2489" y2="1236" stroke="#e8212e" stroke-width="7.8" stroke-linecap="butt"/>
<polygon points="2424.0,1236.0 2437.0,1223.0 2450.0,1236.0 2437.0,1249.0" fill="#e8212e"/>
<text x="2504" y="1251" font-size="44" fill="#111" font-family="'Liberation Sans','Noto Sans CJK SC',sans-serif" id="lgr6"><tspan textLength="94" lengthAdjust="spacingAndGlyphs">2025</tspan><tspan dx="-15.5" font-size="45">（调增）</tspan></text>
<polyline fill="none" stroke="#2e6da4" stroke-width="5.5" stroke-linejoin="round" stroke-linecap="butt" points="2332.5,1837.3 2468.6,1781.4 2604.7,1741.4 2740.8,1695.4 2876.8,1615.9 3012.9,1575.8 3149.1,1531.1 3285.2,1461.5 3421.2,1424.7 3557.4,1378.7 3693.4,1282.8"/>
<polyline fill="none" stroke="#8fb4dc" stroke-width="5" stroke-linejoin="round" stroke-linecap="butt" points="2332.5,1850.4 2468.6,1793.9 2604.7,1751.9 2740.8,1712.4 2876.8,1647.4 3012.9,1606.0 3149.1,1566.6 3285.2,1502.9 3421.2,1461.5 3557.4,1400.4 3693.4,1292.6"/>
<polyline fill="none" stroke="#d2d2d2" stroke-width="4.5" stroke-linejoin="round" stroke-linecap="butt" points="2332.5,1848.4 2468.6,1792.6 2604.7,1750.6 2740.8,1710.5 2876.8,1640.8 3012.9,1599.4 3149.1,1555.4 3285.2,1496.3 3421.2,1456.9 3557.4,1399.1 3693.4,1297.2"/>
<polyline fill="none" stroke="#7f7f7f" stroke-width="4.5" stroke-linejoin="round" stroke-linecap="butt" points="2332.5,1847.8 2468.6,1791.3 2604.7,1749.9 2740.8,1709.8 2876.8,1638.9 3012.9,1596.8 3149.1,1553.5 3285.2,1493.0 3421.2,1454.9 3557.4,1410.2 3693.4,1331.4"/>
<polyline fill="none" stroke="#333333" stroke-width="4.5" stroke-linejoin="round" stroke-linecap="butt" points="2332.5,1842.5 2468.6,1782.7 2604.7,1742.7 2740.8,1699.3 2876.8,1633.6 3012.9,1594.8 3149.1,1551.5 3285.2,1490.4 3421.2,1451.6 3557.4,1394.5 3693.4,1303.8"/>
<polyline fill="none" stroke="#4f86c6" stroke-width="4.5" stroke-linejoin="round" stroke-linecap="butt" points="2332.5,1847.8 2468.6,1791.9 2604.7,1750.6 2740.8,1711.8 2876.8,1650.7 3012.9,1608.6 3149.1,1569.9 3285.2,1501.6 3421.2,1464.1 3557.4,1404.3 3693.4,1307.1"/>
<polyline fill="none" stroke="#e8212e" stroke-width="7" stroke-linejoin="round" stroke-linecap="butt" points="2332.5,1845.2 2468.6,1788.7 2604.7,1747.3 2740.8,1707.2 2876.8,1643.5 3012.9,1601.0 3149.1,1559.0 3285.2,1497.0 3421.2,1460.8"/>
<polygon points="2319.5,1845.2 2332.5,1832.2 2345.5,1845.2 2332.5,1858.2" fill="#e8212e"/>
<polygon points="2455.6,1788.7 2468.6,1775.7 2481.6,1788.7 2468.6,1801.7" fill="#e8212e"/>
<polygon points="2591.7,1747.3 2604.7,1734.3 2617.7,1747.3 2604.7,1760.3" fill="#e8212e"/>
<polygon points="2727.8,1707.2 2740.8,1694.2 2753.8,1707.2 2740.8,1720.2" fill="#e8212e"/>
<polygon points="2863.8,1643.5 2876.8,1630.5 2889.8,1643.5 2876.8,1656.5" fill="#e8212e"/>
<polygon points="2999.9,1601.0 3012.9,1588.0 3025.9,1601.0 3012.9,1614.0" fill="#e8212e"/>
<polygon points="3136.1,1559.0 3149.1,1546.0 3162.1,1559.0 3149.1,1572.0" fill="#e8212e"/>
<polygon points="3272.2,1497.0 3285.2,1484.0 3298.2,1497.0 3285.2,1510.0" fill="#e8212e"/>
<polygon points="3408.2,1460.8 3421.2,1447.8 3434.2,1460.8 3421.2,1473.8" fill="#e8212e"/>
<rect x="2261.6" y="1143.5" width="4" height="791.7" fill="#000"/>
<text x="2228.5" y="1948.2" font-size="45" fill="#111" text-anchor="end" font-family="'Liberation Sans',sans-serif" textLength="23.3" lengthAdjust="spacingAndGlyphs" >0</text>
<rect x="2261.6" y="1800.10" width="21.5" height="3.4" fill="#000"/>
<text x="2228.5" y="1816.8" font-size="45" fill="#111" text-anchor="end" font-family="'Liberation Sans',sans-serif" textLength="46.6" lengthAdjust="spacingAndGlyphs" >20</text>
<rect x="2261.6" y="1668.70" width="21.5" height="3.4" fill="#000"/>
<text x="2228.5" y="1685.4" font-size="45" fill="#111" text-anchor="end" font-family="'Liberation Sans',sans-serif" textLength="46.6" lengthAdjust="spacingAndGlyphs" >40</text>
<rect x="2261.6" y="1537.30" width="21.5" height="3.4" fill="#000"/>
<text x="2228.5" y="1554.0" font-size="45" fill="#111" text-anchor="end" font-family="'Liberation Sans',sans-serif" textLength="46.6" lengthAdjust="spacingAndGlyphs" >60</text>
<rect x="2261.6" y="1405.90" width="21.5" height="3.4" fill="#000"/>
<text x="2228.5" y="1422.6" font-size="45" fill="#111" text-anchor="end" font-family="'Liberation Sans',sans-serif" textLength="46.6" lengthAdjust="spacingAndGlyphs" >80</text>
<rect x="2261.6" y="1274.50" width="21.5" height="3.4" fill="#000"/>
<text x="2228.5" y="1291.2" font-size="45" fill="#111" text-anchor="end" font-family="'Liberation Sans',sans-serif" textLength="69.9" lengthAdjust="spacingAndGlyphs" >100</text>
<rect x="2261.6" y="1143.10" width="21.5" height="3.4" fill="#000"/>
<text x="2228.5" y="1159.8" font-size="45" fill="#111" text-anchor="end" font-family="'Liberation Sans',sans-serif" textLength="69.9" lengthAdjust="spacingAndGlyphs" >120</text>
<rect x="2261.6" y="1931.2" width="1501.90" height="4" fill="#000"/>
<rect x="2398.50" y="1914.2" width="4" height="19" fill="#000"/>
<rect x="2534.60" y="1914.2" width="4" height="19" fill="#000"/>
<rect x="2670.70" y="1914.2" width="4" height="19" fill="#000"/>
<rect x="2806.80" y="1914.2" width="4" height="19" fill="#000"/>
<rect x="2942.90" y="1914.2" width="4" height="19" fill="#000"/>
<rect x="3079.00" y="1914.2" width="4" height="19" fill="#000"/>
<rect x="3215.10" y="1914.2" width="4" height="19" fill="#000"/>
<rect x="3351.20" y="1914.2" width="4" height="19" fill="#000"/>
<rect x="3487.30" y="1914.2" width="4" height="19" fill="#000"/>
<rect x="3623.40" y="1914.2" width="4" height="19" fill="#000"/>
<rect x="3759.50" y="1914.2" width="4" height="19" fill="#000"/>
<text x="2347.95" y="1965.5" font-size="48" fill="#111" text-anchor="end" font-family="'Liberation Sans',sans-serif" textLength="24" lengthAdjust="spacingAndGlyphs" transform="rotate(-90 2347.95 1965.5)">2</text>
<text x="2484.05" y="1965.5" font-size="48" fill="#111" text-anchor="end" font-family="'Liberation Sans',sans-serif" textLength="24" lengthAdjust="spacingAndGlyphs" transform="rotate(-90 2484.05 1965.5)">3</text>
<text x="2620.15" y="1965.5" font-size="48" fill="#111" text-anchor="end" font-family="'Liberation Sans',sans-serif" textLength="24" lengthAdjust="spacingAndGlyphs" transform="rotate(-90 2620.15 1965.5)">4</text>
<text x="2756.25" y="1965.5" font-size="48" fill="#111" text-anchor="end" font-family="'Liberation Sans',sans-serif" textLength="24" lengthAdjust="spacingAndGlyphs" transform="rotate(-90 2756.25 1965.5)">5</text>
<text x="2892.35" y="1965.5" font-size="48" fill="#111" text-anchor="end" font-family="'Liberation Sans',sans-serif" textLength="24" lengthAdjust="spacingAndGlyphs" transform="rotate(-90 2892.35 1965.5)">6</text>
<text x="3028.45" y="1965.5" font-size="48" fill="#111" text-anchor="end" font-family="'Liberation Sans',sans-serif" textLength="24" lengthAdjust="spacingAndGlyphs" transform="rotate(-90 3028.45 1965.5)">7</text>
<text x="3164.55" y="1965.5" font-size="48" fill="#111" text-anchor="end" font-family="'Liberation Sans',sans-serif" textLength="24" lengthAdjust="spacingAndGlyphs" transform="rotate(-90 3164.55 1965.5)">8</text>
<text x="3300.65" y="1965.5" font-size="48" fill="#111" text-anchor="end" font-family="'Liberation Sans',sans-serif" textLength="24" lengthAdjust="spacingAndGlyphs" transform="rotate(-90 3300.65 1965.5)">9</text>
<text x="3436.75" y="1965.5" font-size="48" fill="#111" text-anchor="end" font-family="'Liberation Sans',sans-serif" textLength="48" lengthAdjust="spacingAndGlyphs" transform="rotate(-90 3436.75 1965.5)">10</text>
<text x="3572.85" y="1965.5" font-size="48" fill="#111" text-anchor="end" font-family="'Liberation Sans',sans-serif" textLength="48" lengthAdjust="spacingAndGlyphs" transform="rotate(-90 3572.85 1965.5)">11</text>
<text x="3708.95" y="1965.5" font-size="48" fill="#111" text-anchor="end" font-family="'Liberation Sans',sans-serif" textLength="48" lengthAdjust="spacingAndGlyphs" transform="rotate(-90 3708.95 1965.5)">12</text>
<text font-size="44" fill="#111" font-family="'Liberation Sans',sans-serif" text-anchor="middle" transform="translate(2162,1539) rotate(-90) scale(0.5,1)">%</text>
<rect x="0" y="2187.8" width="4000" height="62.19999999999982" fill="#004379"/>
<polygon points="2430,2187.8 2763,2187.8 2924,2250 2595,2250" fill="#005199"/>
<polygon points="2763,2187.8 3165,2187.8 3071,2250 2924,2250" fill="#0068bd"/>
<polygon points="3143,2187.8 3165,2187.8 3158,2193" fill="#0a4f9a"/>
<polygon points="3165,2187.8 3649,2187.8 3556,2250 3304,2250 3158,2193" fill="#ae232b"/>
<polygon points="3158,2193 3304,2250 3071,2250" fill="#d90e1b"/>
<polygon points="3649,2187.8 4000,2187.8 4000,2250 3556,2250" fill="#8c1c21"/>
<text x="239.5" y="2235.8" fill="#fff" font-weight="500" font-family="'Liberation Sans','Noto Sans CJK SC',sans-serif" id="foot"><tspan font-size="38.75" letter-spacing="2.92">请务必阅读正文之后的免责声明及其项下所有内容</tspan></text>
</svg>
</body></html>
